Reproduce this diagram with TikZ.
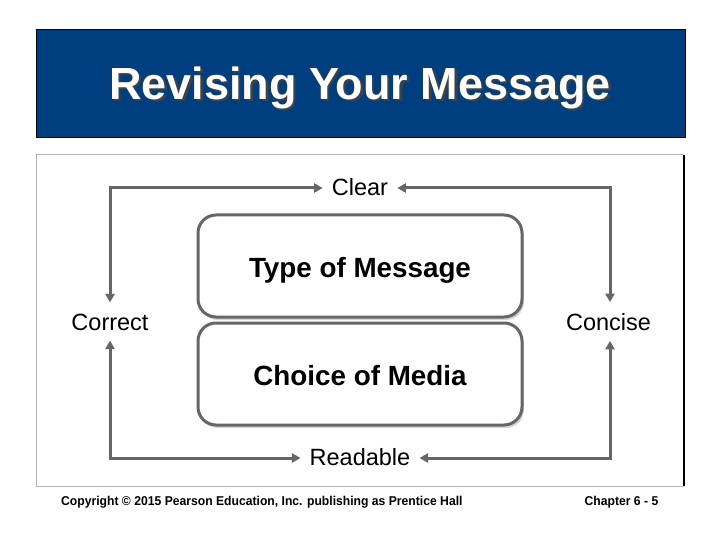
\documentclass[tikz,border=0pt]{standalone}
\usepackage{fontspec}
\usepackage{graphicx}
\setmainfont{Liberation Sans}
\usetikzlibrary{arrows.meta,shadows}
\definecolor{titleblue}{HTML}{003F7F}
\definecolor{linegray}{HTML}{666666}
\definecolor{framegray}{HTML}{B4B4B4}
\tikzset{
  conn/.style={draw=linegray,line width=3pt,{Triangle[length=8.5pt,width=9pt]}-{Triangle[length=8.5pt,width=9pt]}},
  box/.style={draw=linegray,line width=3pt,rounded corners=18pt,fill=white,minimum width=324pt,minimum height=102pt,
    drop shadow={shadow xshift=2pt,shadow yshift=-3pt,fill=black!45,opacity=0.35},
    text height=24.5pt,text depth=1pt,
    font=\fontsize{27.8}{30}\selectfont\bfseries},
  lbl/.style={inner sep=0pt,font=\fontsize{23.5}{26}\selectfont},
  foot/.style={inner sep=0pt,font=\fontsize{12.8}{14}\selectfont\bfseries}
}
\newcommand\shadowtext[1]{\rlap{\kern2.5pt\raisebox{-2.5pt}{\color{black!75}#1}}#1}
\begin{document}
\begin{tikzpicture}[x=1pt,y=-1pt]
\useasboundingbox (0,0) rectangle (720,540);
\fill[white] (0,0) rectangle (720,540);
% title band
\draw[fill=titleblue,draw=black,line width=1pt] (36,30) rectangle (685,138);
\node (title) [text=white,font=\fontsize{45}{50}\selectfont\bfseries] at (360,89) {\shadowtext{Revising Your Message}};
% content frame
\draw[framegray,line width=1pt] (684,155) -- (36,155) -- (36,486) -- (684,486);
\draw[black,line width=1.4pt] (684,155) -- (684,486);
% boxes
\node (type) [box] at (360,266) {Type of Message};
\node (media) [box] at (360,374) {Choice of Media};
% labels
\node (clear) [lbl] at (360,187) {Clear};
\node (correct) [lbl] at (110,322) {Correct};
\node (concise) [lbl] at (608.5,322) {Concise};
\node (readable) [lbl] at (360,457) {Readable};
% connectors
\draw[conn] ([xshift=-9pt,yshift=-1pt]clear.west) -| ([yshift=11pt]correct.north);
\draw[conn] ([xshift=9pt,yshift=-1pt]clear.east) -| ([xshift=1.5pt,yshift=11pt]concise.north);
\draw[conn] ([xshift=-9pt,yshift=-1pt]readable.west) -| ([yshift=-10pt]correct.south);
\draw[conn] ([xshift=9pt,yshift=-1pt]readable.east) -| ([xshift=1.5pt,yshift=-10pt]concise.south);
% footer
\node (copy) [foot,anchor=west] at (61,502.5) {\scalebox{0.95}[1]{Copyright © 2015 Pearson Education, Inc. publishing as Prentice Hall}};
\node (chap) [foot] at (621.5,502.5) {\scalebox{0.95}[1]{Chapter 6 - 5}};
\end{tikzpicture}
\end{document}
